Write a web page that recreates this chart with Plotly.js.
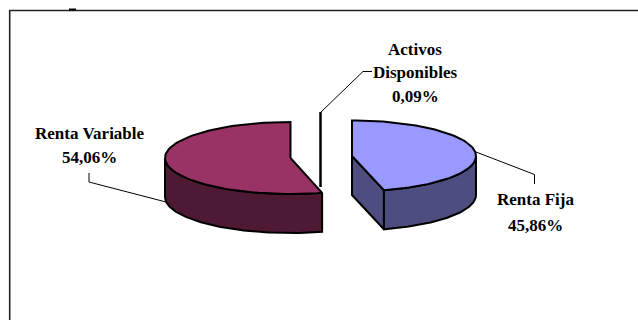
<!DOCTYPE html>
<html>
<head>
<meta charset="utf-8">
<script src="https://cdn.plot.ly/plotly-3.0.1.min.js"></script>
<style>html,body{margin:0;padding:0;background:#fff;overflow:hidden}#chart{width:638px;height:320px}</style>
</head>
<body>
<div id="chart"></div>
<script>
// Data
const categories = ['Renta Fija', 'Activos Disponibles', 'Renta Variable'];
const shares = [45.86, 0.09, 54.06];

// Colours
const topColors = ['#9999FF', '#000000', '#993366'];
const sideColors = ['#4D4D80', '#000000', '#4D1933'];

// Exploded 3D pie geometry (pixel-like plot units)
const centers = [[352, 156], [320.5, 150], [290.5, 158]];
const radiiX = [124, 0, 125.5];
const radiiY = [35.5, 0, 36];
const depth = 39;

// Leader lines and label placement
const leaders = [
  {x: [476, 534.5, 534.5], y: [152, 174.5, 184]},
  {x: [321, 363, 372], y: [112, 71.5, 71.5]},
  {x: [166, 89, 89], y: [202, 182, 173]}
];
const labelLines = [
  {x: 535, ys: [199, 225], lines: ['Renta Fija']},
  {x: 415, ys: [49, 72, 96], lines: ['Activos', 'Disponibles']},
  {x: 89.5, ys: [133, 157], lines: ['Renta Variable']}
];
const fmt = v => v.toFixed(2).replace('.', ',') + '%';

const frac = [];
let acc = 0;
shares.forEach(v => { frac.push([acc, acc + v]); acc += v; });
const total = acc;

function pt(i, a, dz) {
  return [centers[i][0] + radiiX[i] * Math.sin(a), centers[i][1] - radiiY[i] * Math.cos(a) + (dz || 0)];
}
function arc(i, a0, a1, dz) {
  const n = 80, out = [];
  for (let k = 0; k <= n; k++) out.push(pt(i, a0 + (a1 - a0) * k / n, dz));
  return out;
}
function poly(points, fill, name) {
  const closed = points.concat([points[0]]);
  return {
    type: 'scatter', mode: 'lines', name: name,
    x: closed.map(p => p[0]), y: closed.map(p => p[1]),
    fill: 'toself', fillcolor: fill,
    line: {color: '#000', width: 2, shape: 'linear'},
    hoverinfo: 'skip', showlegend: false
  };
}

const traces = [];
shares.forEach((v, i) => {
  const a0 = frac[i][0] / total * 2 * Math.PI;
  const a1 = frac[i][1] / total * 2 * Math.PI;
  if (radiiX[i] === 0) return;
  const c = centers[i];
  // cut face towards the viewer (first radius of a right-hand slice is hidden; closing radius shows)
  if (i === 0) {
    const e = pt(i, a1);
    traces.push(poly([[c[0], c[1]], e, [e[0], e[1] + depth], [c[0], c[1] + depth]], sideColors[i], categories[i] + ' cut'));
  }
  // outer wall: the part of the rim facing the viewer
  const w0 = Math.max(a0, Math.PI / 2), w1 = Math.min(a1, 3 * Math.PI / 2);
  traces.push(poly(arc(i, w0, w1, 0).concat(arc(i, w1, w0, depth)), sideColors[i], categories[i] + ' wall'));
  // top face
  traces.push(poly([[c[0], c[1]]].concat(arc(i, a0, a1, 0)), topColors[i], categories[i]));
});

// The sliver is seen edge-on as a single vertical stroke
traces.push({
  type: 'scatter', mode: 'lines', name: categories[1],
  x: [centers[1][0], centers[1][0]], y: [centers[1][1] - 38, centers[1][1] + 37],
  line: {color: '#000', width: 2.5}, hoverinfo: 'skip', showlegend: false
});
leaders.forEach(l => traces.push({
  type: 'scatter', mode: 'lines', x: l.x, y: l.y,
  line: {color: '#000', width: 1}, hoverinfo: 'skip', showlegend: false
}));

const annotations = [];
labelLines.forEach((l, i) => {
  l.lines.concat([fmt(shares[i])]).forEach((t, k) => annotations.push({
    x: l.x, y: l.ys[k], xref: 'x', yref: 'y', text: '<b>' + t + '</b>', showarrow: false,
    xanchor: 'center', yanchor: 'middle',
    font: {family: '"Liberation Serif", serif', size: 17, color: '#000'}
  }));
});

const layout = {
  width: 638, height: 320,
  margin: {l: 0, r: 0, t: 0, b: 0},
  paper_bgcolor: '#fff', plot_bgcolor: '#fff',
  xaxis: {range: [0, 638], visible: false, fixedrange: true},
  yaxis: {range: [320, 0], visible: false, fixedrange: true},
  showlegend: false,
  annotations: annotations,
  shapes: [
    {type: 'line', xref: 'x', yref: 'y', x0: 9.5, x1: 638, y0: 10.5, y1: 10.5, line: {color: '#222', width: 1.6}},
    {type: 'line', xref: 'x', yref: 'y', x0: 9.7, x1: 9.7, y0: 10, y1: 320, line: {color: '#222', width: 1.6}},
    {type: 'line', xref: 'x', yref: 'y', x0: 69, x1: 76, y0: 9.5, y1: 9.5, line: {color: '#000', width: 2}}
  ]
};
Plotly.newPlot('chart', traces, layout, {displayModeBar: false, staticPlot: true});
</script>
</body>
</html>
